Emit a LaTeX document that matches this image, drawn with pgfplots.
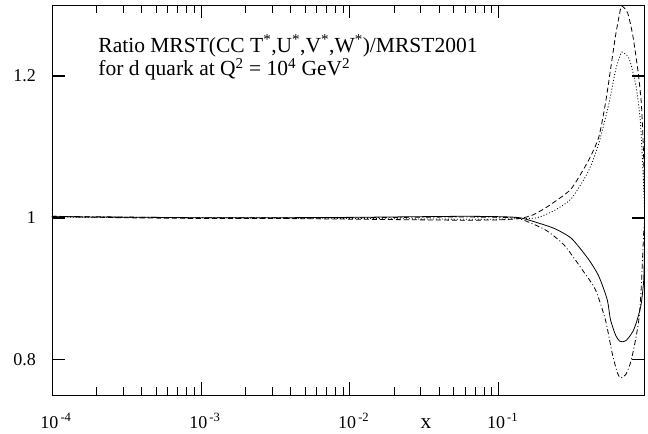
\documentclass[border=0pt]{standalone}
\usepackage{pgfplots}
\pgfplotsset{compat=1.18}
\usepackage{fontspec}
\setmainfont{Liberation Serif}
\newcommand{\fs}{\fontsize{18bp}{21bp}\selectfont}
\newcommand{\ft}{\fontsize{21.5bp}{26bp}\selectfont}
\begin{document}
\begin{tikzpicture}
\begin{axis}[
  name=ax,
  scale only axis,
  width=592.6bp, height=390bp,
  xmode=log,
  xmin=1e-4, xmax=0.957,
  ymin=0.75, ymax=1.3,
  axis line style={line width=0.8bp},
  xtick={1e-4,1e-3,1e-2,1e-1},
  xticklabels={10\textsuperscript{\,-4},10\textsuperscript{\,-3},10\textsuperscript{\,-2},10\textsuperscript{\,-1}},
  ytick={0.8,1,1.2},
  yticklabels={0.8,1,1.2},
  tick align=inside,
  major tick length=13bp,
  minor tick length=8bp,
  xtick style={line width=0.7bp, black},
  minor tick style={line width=0.7bp, black},
  ytick style={line width=1.6bp, black},
  tick label style={font=\fs},
  xticklabel style={inner sep=0pt, anchor=base, yshift=-33bp, xshift=4bp},
  yticklabel style={inner sep=0pt, anchor=east, xshift=-16bp},
  clip=true,
]
\addplot[black, line width=0.8bp, smooth, tension=0.4] coordinates {
(1e-4,1.0015)(2e-4,1.001)(5e-4,1.0005)(1e-3,1.0)(3e-3,1.0)(1e-2,1.0005)(3e-2,1.0015)(0.06,1.002)(0.1,1.0015)(0.139,1.0)(0.182,0.993)(0.236,0.985)(0.308,0.971)(0.40,0.942)(0.47,0.918)(0.536,0.885)(0.565,0.856)(0.612,0.834)(0.65,0.826)(0.68,0.825)(0.72,0.827)(0.755,0.832)(0.8,0.840)(0.839,0.851)(0.88,0.866)(0.91,0.880)(0.942,0.909)(0.952,0.94)(0.96,1.0)
};
\addplot[black, line width=0.8bp, smooth, tension=0.4, dash pattern=on 5bp off 2.5bp on 1bp off 2.5bp] coordinates {
(1e-4,1.002)(3e-4,1.001)(1e-3,1.0)(1e-2,1.0)(0.05,1.001)(0.1,1.0005)(0.13,1.0)(0.163,0.993)(0.213,0.981)(0.277,0.961)(0.361,0.928)(0.446,0.899)(0.522,0.856)(0.581,0.808)(0.629,0.781)(0.662,0.774)(0.716,0.779)(0.776,0.798)(0.839,0.832)(0.88,0.86)(0.91,0.904)(0.942,0.976)(0.96,1.0)
};
\addplot[black, line width=0.8bp, smooth, tension=0.4, dash pattern=on 5bp off 3bp] coordinates {
(1e-4,1.002)(3e-4,1.0)(1e-3,0.999)(3e-3,0.999)(1e-2,0.998)(3e-2,0.997)(0.06,0.9965)(0.1,0.997)(0.14,0.999)(0.17,1.004)(0.2,1.012)(0.236,1.022)(0.308,1.041)(0.40,1.080)(0.47,1.113)(0.522,1.161)(0.565,1.209)(0.612,1.258)(0.662,1.296)(0.68,1.298)(0.736,1.289)(0.796,1.258)(0.861,1.209)(0.91,1.161)(0.942,1.089)(0.96,1.0)
};
\addplot[black, line width=0.8bp, smooth, tension=0.4, dash pattern=on 1bp off 2bp] coordinates {
(1e-4,1.001)(1e-3,1.0)(1e-2,0.999)(0.05,0.998)(0.1,0.998)(0.15,0.999)(0.182,1.0)(0.236,1.010)(0.308,1.027)(0.40,1.065)(0.47,1.104)(0.551,1.161)(0.612,1.209)(0.662,1.231)(0.68,1.2335)(0.755,1.224)(0.839,1.185)(0.895,1.137)(0.934,1.065)(0.96,1.0)
};
\node[anchor=base west, inner sep=0pt, font=\ft] at (rel axis cs:0.078,0.879) {Ratio MRST(CC T\textsuperscript{*},U\textsuperscript{*},V\textsuperscript{*},W\textsuperscript{*})/MRST2001};
\node[anchor=base west, inner sep=0pt, font=\ft] at (rel axis cs:0.078,0.819) {for d quark at Q\textsuperscript{2} = 10\textsuperscript{4} GeV\textsuperscript{2}};
\end{axis}
\node[anchor=base, inner sep=0pt, font=\ft] at ([xshift=374bp, yshift=-33.5bp]ax.south west) {x};
\pgfresetboundingbox
\path[use as bounding box] ([xshift=-52bp, yshift=-38bp]ax.south west) rectangle ([xshift=3.4bp, yshift=5bp]ax.north east);
\end{tikzpicture}
\end{document}
